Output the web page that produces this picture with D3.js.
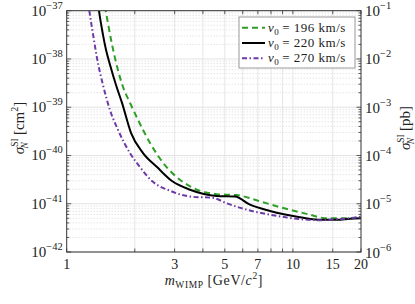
<!DOCTYPE html>
<html>
<head>
<meta charset="utf-8">
<script src="https://cdn.jsdelivr.net/npm/d3@7"></script>
<style>
body { margin: 0; background: #fff; }
text { font-family: "Liberation Serif", "DejaVu Serif", serif; fill: #222; }
</style>
</head>
<body>
<div id="chart"></div>
<script>
var width = 415, height = 304;
var margin = {left: 66.7, right: 54, top: 10.7, bottom: 52};

// tick labels
var xTicks = [1, 2, 3, 4, 5, 6, 7, 8, 9, 10, 15, 20];
var xTickLabels = [1, 3, 5, 7, 10, 15, 20];
var yExponents = [-42, -41, -40, -39, -38, -37];
var pbExponents = [-6, -5, -4, -3, -2, -1];

// v0 = 196 km/s
var massGreen = [1.42, 1.487, 1.581, 1.774, 1.905, 2.066, 2.335, 2.666, 2.951, 3.51, 4.603, 5.643, 7.155, 9.07, 11.51, 14.11, 17.88, 20];
var sigmaGreen = [3.16e-37, 1.0e-37, 2.14e-38, 2.63e-39, 1.23e-39, 5.50e-40, 1.82e-40, 7.08e-41, 4.17e-41, 2.29e-41, 1.58e-41, 1.51e-41, 1.12e-41, 8.13e-42, 6.17e-42, 5.01e-42, 5.01e-42, 5.37e-42];

// v0 = 220 km/s
var massBlack = [1.35, 1.389, 1.447, 1.492, 1.554, 1.652, 1.756, 1.924, 2.175, 2.507, 2.921, 3.51, 4.603, 5.546, 6.462, 7.92, 10.75, 12.91, 15.67, 17.88, 20];
var sigmaBlack = [3.0e-37, 1.0e-37, 3.16e-38, 1.55e-38, 7.59e-39, 2.88e-39, 1.23e-39, 2.95e-40, 1.12e-40, 5.75e-41, 2.95e-41, 1.95e-41, 1.45e-41, 1.41e-41, 9.55e-42, 7.08e-42, 5.25e-42, 4.68e-42, 4.68e-42, 4.90e-42, 5.01e-42];

// v0 = 270 km/s
var massPurple = [1.22, 1.259, 1.320, 1.361, 1.447, 1.554, 1.686, 1.905, 2.109, 2.383, 2.862, 3.51, 4.435, 5.096, 6.462, 8.48, 10.75, 13.18, 15.62, 17.88, 20];
var sigmaPurple = [3.0e-37, 1.0e-37, 2.47e-38, 1.05e-38, 2.88e-39, 8.71e-40, 3.39e-40, 1.12e-40, 5.75e-41, 2.95e-41, 1.86e-41, 1.41e-41, 1.32e-41, 1.02e-41, 7.24e-42, 5.62e-42, 4.79e-42, 4.57e-42, 4.79e-42, 5.01e-42, 5.37e-42];

var series = [
	{v0: 196, mass: massGreen, sigma: sigmaGreen, color: "#2e9e26", dash: "6,4"},
	{v0: 220, mass: massBlack, sigma: sigmaBlack, color: "#000000", dash: null},
	{v0: 270, mass: massPurple, sigma: sigmaPurple, color: "#6c3aa8", dash: "5,2.5,1.5,2.5"}
];

var x0 = margin.left, x1 = width - margin.right;
var y0 = height - margin.bottom, y1 = margin.top;

var x = d3.scaleLog().domain([1, 20]).range([x0, x1]);
var y = d3.scaleLog().domain([1e-42, 1e-37]).range([y0, y1]);
var yPb = d3.scaleLog().domain([1e-6, 1e-1]).range([y0, y1]);

var svg = d3.select("#chart").append("svg")
	.attr("width", width)
	.attr("height", height)
	.attr("xmlns", "http://www.w3.org/2000/svg");

svg.append("rect").attr("width", width).attr("height", height).attr("fill", "#fff");

var grid = svg.append("g");

// minor horizontal grid, dotted
for (var e = -42; e < -37; e++) {
	for (var k = 2; k <= 9; k++) {
		grid.append("line")
			.attr("x1", x0).attr("x2", x1)
			.attr("y1", y(k * Math.pow(10, e))).attr("y2", y(k * Math.pow(10, e)))
			.attr("stroke", "#cfcfcf").attr("stroke-width", 0.8)
			.attr("stroke-dasharray", "1,2");
	}
}
// major horizontal grid
yExponents.forEach(function(e){
	grid.append("line")
		.attr("x1", x0).attr("x2", x1)
		.attr("y1", y(Math.pow(10, e))).attr("y2", y(Math.pow(10, e)))
		.attr("stroke", "#e3e3e3").attr("stroke-width", 1);
});
// vertical grid
xTicks.forEach(function(t){
	if (t == 1 || t == 20) return;
	grid.append("line")
		.attr("x1", x(t)).attr("x2", x(t))
		.attr("y1", y0).attr("y2", y1)
		.attr("stroke", "#e6e6e6").attr("stroke-width", 1);
});

// curves
svg.append("clipPath").attr("id", "plotClip")
	.append("rect").attr("x", x0).attr("y", y1).attr("width", x1 - x0).attr("height", y0 - y1);

var line = d3.line()
	.x(function(d){ return x(d[0]); })
	.y(function(d){ return y(d[1]); })
	.curve(d3.curveMonotoneX);

var curves = svg.append("g").attr("clip-path", "url(#plotClip)");
series.forEach(function(s){
	var pts = s.mass.map(function(m, i){ return [m, s.sigma[i]]; });
	curves.append("path")
		.datum(pts)
		.attr("d", line)
		.attr("fill", "none")
		.attr("stroke", s.color)
		.attr("stroke-width", 2)
		.attr("stroke-dasharray", s.dash);
});

// axes frame and ticks
var axisColor = "#333";
var frame = svg.append("g");
frame.append("rect")
	.attr("x", x0).attr("y", y1).attr("width", x1 - x0).attr("height", y0 - y1)
	.attr("fill", "none").attr("stroke", axisColor).attr("stroke-width", 1);

xTicks.forEach(function(t){
	frame.append("line").attr("x1", x(t)).attr("x2", x(t)).attr("y1", y0).attr("y2", y0 - 3.5)
		.attr("stroke", axisColor).attr("stroke-width", 0.8);
	frame.append("line").attr("x1", x(t)).attr("x2", x(t)).attr("y1", y1).attr("y2", y1 + 3.5)
		.attr("stroke", axisColor).attr("stroke-width", 0.8);
});

for (var e = -42; e <= -37; e++) {
	for (var k = 1; k <= 9; k++) {
		if (e == -37 && k > 1) break;
		var yy = y(k * Math.pow(10, e));
		var len = k == 1 ? 4.5 : 2.5;
		frame.append("line").attr("x1", x0).attr("x2", x0 + len).attr("y1", yy).attr("y2", yy)
			.attr("stroke", axisColor).attr("stroke-width", 0.8);
		frame.append("line").attr("x1", x1).attr("x2", x1 - len).attr("y1", yy).attr("y2", yy)
			.attr("stroke", axisColor).attr("stroke-width", 0.8);
	}
}

// x tick labels
xTickLabels.forEach(function(t){
	svg.append("text")
		.attr("x", x(t)).attr("y", y0 + 16.5)
		.attr("text-anchor", "middle")
		.style("font-size", "14px")
		.text(t);
});

// y tick labels, left (cm^2)
yExponents.forEach(function(e){
	var t = svg.append("text")
		.attr("x", x0 - 4).attr("y", y(Math.pow(10, e)) + 5)
		.attr("text-anchor", "end")
		.style("font-size", "15px");
	t.append("tspan").text("10");
	t.append("tspan").attr("dy", -7).style("font-size", "10.5px").text("\u2212" + Math.abs(e));
});

// y tick labels, right (pb)
pbExponents.forEach(function(e){
	var t = svg.append("text")
		.attr("x", x1 + 4).attr("y", yPb(Math.pow(10, e)) + 5.5)
		.attr("text-anchor", "start")
		.style("font-size", "15px");
	t.append("tspan").text("10");
	t.append("tspan").attr("dy", -7).style("font-size", "10.5px").text("\u2212" + Math.abs(e));
});

// x axis label
var xl = svg.append("text")
	.attr("x", (x0 + x1) / 2).attr("y", y0 + 33)
	.attr("text-anchor", "middle")
	.style("font-size", "14px")
	.style("letter-spacing", "0.6px");
xl.append("tspan").style("font-style", "italic").text("m");
xl.append("tspan").attr("dy", 3).style("font-size", "9.5px").text("WIMP");
xl.append("tspan").attr("dx", 4).attr("dy", -3).text("[GeV/");
xl.append("tspan").style("font-style", "italic").text("c");
xl.append("tspan").attr("dy", -6).style("font-size", "9.5px").text("2");
xl.append("tspan").attr("dy", 6).text("]");

// y axis labels
function sigmaLabel(tx, ty, unit, sup) {
	var t = svg.append("text")
		.attr("transform", "translate(" + tx + "," + ty + ") rotate(-90)")
		.attr("text-anchor", "middle")
		.style("font-size", "15px");
	t.append("tspan").style("font-style", "italic").text("\u03C3");
	t.append("tspan").attr("dy", -6).style("font-size", "9.5px").text("SI");
	t.append("tspan").attr("dx", -10).attr("dy", 10).style("font-size", "9.5px").style("font-style", "italic").text("N");
	t.append("tspan").attr("dx", 7).attr("dy", -4).text("[" + unit);
	if (sup) {
		t.append("tspan").attr("dy", -6).style("font-size", "10px").text(sup);
		t.append("tspan").attr("dy", 6).text("]");
	} else {
		t.append("tspan").text("]");
	}
}
sigmaLabel(24, 128, "cm", "2");
sigmaLabel(410, 128, "pb", null);

// legend
var legend = svg.append("g");
legend.append("rect")
	.attr("x", 239).attr("y", 17).attr("width", 116).attr("height", 51)
	.attr("fill", "#fff").attr("stroke", "#999").attr("stroke-width", 1);

series.forEach(function(s, i){
	var ly = 27.7 + i * 15.3;
	legend.append("line")
		.attr("x1", 242).attr("x2", 265).attr("y1", ly).attr("y2", ly)
		.attr("stroke", s.color).attr("stroke-width", 2)
		.attr("stroke-dasharray", s.dash);
	var t = legend.append("text")
		.attr("x", 268).attr("y", ly + 4)
		.style("font-size", "13px")
		.style("letter-spacing", "0.5px");
	t.append("tspan").style("font-style", "italic").text("v");
	t.append("tspan").attr("dy", 3).style("font-size", "9px").text("0");
	t.append("tspan").attr("dx", 3).attr("dy", -3).text("= " + s.v0 + " km/s");
});
</script>
</body>
</html>
